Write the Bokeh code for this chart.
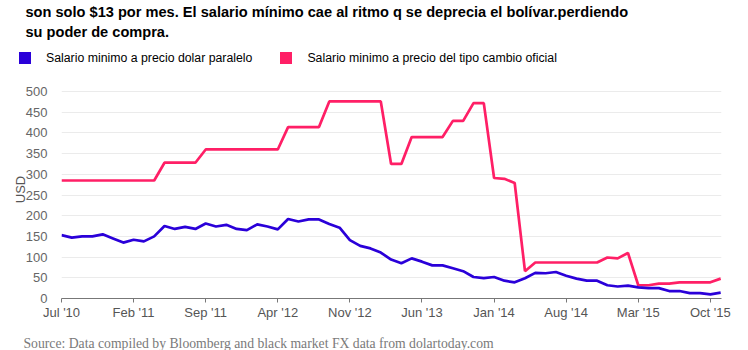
from bokeh.plotting import figure
from bokeh.layouts import column
from bokeh.models import (Range1d, FixedTicker, Label, Legend, LegendItem,
                          ColumnDataSource)
from bokeh.embed import file_html
from bokeh.resources import INLINE

NaN = float("nan")

# ---- data (monthly, Jul 2010 .. Nov 2015) ----
parallel_usd = [153, 147, 150, 150, 155, 145, 135, 142, 138, 150,
                175, 168, 173, 168, 181, 174, 178, 168, 165, 179,
                174, 167, 192, 186, 191, 191, 180, 171, 141, 127,
                121, 111, 94, 85, 97, 89, 80, 80, 73, 66,
                52, 49, 52, 43, 39, 49, 62, 61, 64, 55,
                48, 43, 43, 32, 29, 31, 27, 25, 25, 18,
                18, 13, 13, 10, 14]
official_usd = [285, 285, 285, 285, 285, 285, 285, 285, 285, 285,
                328, 328, 328, 328, 360, 360, 360, 360, 360, 360,
                360, 360, 414, 414, 414, 414, 476, 476, 476, 476,
                476, 476, 325, 325, 390, 390, 390, 390, 429, 429,
                472, 472, 291, 289, 279, 66, 87, 87, 87, 87,
                87, 87, 87, 99, 97, 110, 32, 32, 36, 36,
                39, 39, 39, 39, 48]
month_index = list(range(len(parallel_usd)))
tick_positions = [0, 7, 14, 21, 28, 35, 42, 49, 56, 63]
tick_labels = ["Jul '10", "Feb '11", "Sep '11", "Apr '12", "Nov '12",
               "Jun '13", "Jan '14", "Aug '14", "Mar '15", "Oct '15"]
y_ticks = [0, 50, 100, 150, 200, 250, 300, 350, 400, 450, 500]
series_names = ["Salario minimo a precio dolar paralelo",
                "Salario minimo a precio del tipo cambio oficial"]
title_lines = ["son solo $13 por mes. El salario mínimo cae al ritmo q se deprecia el bolívar.perdiendo",
               "su poder de compra."]
source_text = "Source: Data compiled by Bloomberg and black market FX data from dolartoday.com"

BLUE = "#2a00d9"
PINK = "#ff1f66"
W = 748
HEAD_H, MAIN_H, FOOT_H = 80, 250, 20


def blank(h):
    f = figure(width=W, height=h, output_backend="svg", toolbar_location=None,
               x_range=Range1d(0, W), y_range=Range1d(0, h),
               x_axis_type=None, y_axis_type=None, frame_align=False,
               min_border_left=0, min_border_right=0, min_border_top=0,
               min_border_bottom=0, outline_line_color=None,
               background_fill_color="white", border_fill_color="white")
    f.xgrid.visible = False
    f.ygrid.visible = False
    return f


# ---------------- header: title + legend ----------------
head = blank(HEAD_H)
for txt, base in zip(title_lines, [11, 31]):
    head.add_layout(Label(x=25, y=HEAD_H - base, x_units="screen", y_units="screen",
                          text=txt, text_font="Liberation Sans",
                          text_font_style="bold", text_font_size="14.6px",
                          text_color="black", text_baseline="alphabetic"))

proxy = dict(left=[NaN], right=[NaN], top=[NaN], bottom=[NaN])
r_blue = head.quad(source=ColumnDataSource(dict(proxy)), left="left", right="right",
                   top="top", bottom="bottom", fill_color=BLUE, line_color=None)
r_pink = head.quad(source=ColumnDataSource(dict(proxy)), left="left", right="right",
                   top="top", bottom="bottom", fill_color=PINK, line_color=None)
legend = Legend(items=[LegendItem(label=series_names[0], renderers=[r_blue]),
                       LegendItem(label=series_names[1], renderers=[r_pink])],
                orientation="horizontal", location=(17, HEAD_H - 65),
                glyph_width=15, glyph_height=15, label_height=15,
                label_standoff=14, spacing=26, padding=0, margin=0,
                border_line_color=None, background_fill_alpha=0,
                label_text_font="Liberation Sans", label_text_font_size="12.3px",
                label_text_color="black")
head.add_layout(legend, "center")

# ---------------- main chart ----------------
p = figure(width=W, height=MAIN_H, output_backend="svg", toolbar_location=None,
           x_range=Range1d(0, 64.08), y_range=Range1d(0, 218 / 0.414),
           min_border_left=61, min_border_right=27, min_border_top=0,
           min_border_bottom=32, outline_line_color=None, frame_align=False,
           background_fill_color="white", border_fill_color="white")

src = ColumnDataSource(dict(x=month_index, par=parallel_usd, off=official_usd))
p.line("x", "off", source=src, line_color=PINK, line_width=2.7)
p.line("x", "par", source=src, line_color=BLUE, line_width=2.7)

p.xaxis.ticker = FixedTicker(ticks=tick_positions)
p.xaxis.major_label_overrides = {t: l for t, l in zip(tick_positions, tick_labels)}
p.xaxis.minor_tick_line_color = None
p.xaxis.major_tick_out = 4
p.xaxis.major_tick_in = 0
p.xaxis.axis_line_color = "#777777"
p.xaxis.major_tick_line_color = "#777777"
p.xaxis.major_label_standoff = 2
p.xaxis.major_label_text_font = "Liberation Sans"
p.xaxis.major_label_text_font_size = "13px"
p.xaxis.major_label_text_color = "#555555"

p.yaxis.ticker = FixedTicker(ticks=y_ticks)
p.yaxis.axis_line_color = None
p.yaxis.major_tick_line_color = None
p.yaxis.minor_tick_line_color = None
p.yaxis.major_label_standoff = 8
p.yaxis.major_label_text_font = "Liberation Sans"
p.yaxis.major_label_text_font_size = "13px"
p.yaxis.major_label_text_color = "#666666"
p.yaxis.axis_label = "USD"
p.yaxis.axis_label_text_font = "Liberation Sans"
p.yaxis.axis_label_text_font_size = "13px"
p.yaxis.axis_label_text_font_style = "normal"
p.yaxis.axis_label_text_color = "#555555"
p.yaxis.axis_label_standoff = -5

p.xgrid.grid_line_color = None
p.ygrid.grid_line_color = "#ebebeb"
p.ygrid.grid_line_width = 1

# ---------------- footer: source ----------------
foot = blank(FOOT_H)
foot.add_layout(Label(x=23, y=FOOT_H - 13, x_units="screen", y_units="screen",
                      text=source_text, text_font="Liberation Serif",
                      text_font_size="13.7px", text_color="#7a7a7a",
                      text_baseline="middle"))

layout = column(head, p, foot, spacing=0)
open("out.html", "w").write(file_html(layout, INLINE))
